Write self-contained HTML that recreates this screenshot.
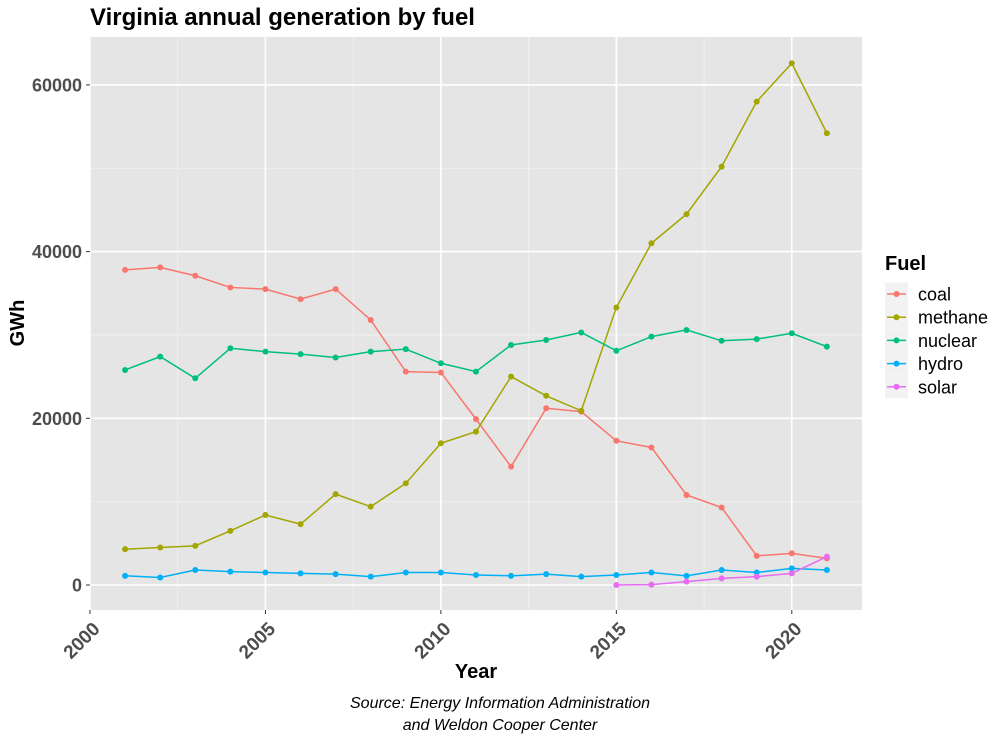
<!DOCTYPE html>
<html><head><style>
body{margin:0;background:#fff;}
svg text{font-family:"Liberation Sans",Arial,sans-serif;}
</style></head><body>
<svg id="s" width="1006" height="734" xmlns="http://www.w3.org/2000/svg">
<rect x="0" y="0" width="1006" height="734" fill="#fff"/>
<text x="90" y="25" font-size="24" font-weight="bold" fill="#000">Virginia annual generation by fuel</text>
<rect x="90" y="37" width="772" height="573" fill="#E5E5E5"/>
<g id="grid"></g>
<g id="data"></g>
<g id="axes"></g>
<text transform="translate(24,323) rotate(-90)" text-anchor="middle" font-size="20" font-weight="bold">GWh</text>
<text x="476" y="678" text-anchor="middle" font-size="20" font-weight="bold">Year</text>
<text x="500" y="708" text-anchor="middle" font-size="16" font-style="italic">Source: Energy Information Administration</text>
<text x="500" y="730" text-anchor="middle" font-size="16" font-style="italic">and Weldon Cooper Center</text>
<text x="885" y="270" font-size="20" font-weight="bold">Fuel</text>
<g id="leg"></g>
</svg>
<script>
const NS="http://www.w3.org/2000/svg";
function el(p,t,a,txt){const e=document.createElementNS(NS,t);for(const k in a)e.setAttribute(k,a[k]);if(txt!==undefined)e.textContent=txt;document.getElementById(p).appendChild(e);return e;}
const X=y=>90+(y-2000)*35.09, Y=v=>585-v*0.008335;
for(let v=10000;v<=60000;v+=20000)el("grid","line",{x1:90,x2:862,y1:Y(v),y2:Y(v),stroke:"#F2F2F2","stroke-width":0.8});
for(let y=2002.5;y<=2022;y+=5)el("grid","line",{x1:X(y),x2:X(y),y1:37,y2:610,stroke:"#F2F2F2","stroke-width":0.8});
for(let v=0;v<=60000;v+=20000){el("grid","line",{x1:90,x2:862,y1:Y(v),y2:Y(v),stroke:"#fff","stroke-width":1.6});
 el("axes","line",{x1:86,x2:90,y1:Y(v),y2:Y(v),stroke:"#333","stroke-width":1});
 el("axes","text",{x:82,y:Y(v)+6.5,"text-anchor":"end","font-size":18,"font-weight":"bold",fill:"#4D4D4D"},v);}
for(let y=2000;y<=2020;y+=5){el("grid","line",{x1:X(y),x2:X(y),y1:37,y2:610,stroke:"#fff","stroke-width":1.6});
 el("axes","line",{x1:X(y),x2:X(y),y1:610,y2:614,stroke:"#333","stroke-width":1});
 el("axes","text",{transform:`translate(${X(y)+11},${630}) rotate(-45)`,"text-anchor":"end","font-size":19,"font-weight":"bold",fill:"#4D4D4D"},y);}
const S=[
["coal","#F8766D",2001,[37800,38100,37100,35700,35500,34300,35500,31800,25600,25500,19900,14200,21200,20800,17300,16500,10800,9300,3500,3800,3200]],
["methane","#A3A500",2001,[4300,4500,4700,6500,8400,7300,10900,9400,12200,17000,18400,25000,22700,20900,33300,41000,44500,50200,58000,62600,54200]],
["nuclear","#00BF7D",2001,[25800,27400,24800,28400,28000,27700,27300,28000,28300,26600,25600,28800,29400,30300,28100,29800,30600,29300,29500,30200,28600]],
["hydro","#00B0F6",2001,[1100,900,1800,1600,1500,1400,1300,1000,1500,1500,1200,1100,1300,1000,1200,1500,1100,1800,1500,2000,1800]],
["solar","#E76BF3",2015,[0,50,400,800,1000,1400,3400]]];
S.forEach((s,i)=>{const pts=s[3].map((v,j)=>[X(s[2]+j),Y(v)]);
 el("data","polyline",{points:pts.map(p=>p.join(",")).join(" "),fill:"none",stroke:s[1],"stroke-width":1.5});
 pts.forEach(p=>el("data","circle",{cx:p[0],cy:p[1],r:3,fill:s[1]}));
 const ly=294+i*23.2;
 el("leg","rect",{x:885,y:ly-11.5,width:23,height:23,fill:"#F2F2F2"});
 el("leg","line",{x1:887,x2:906,y1:ly,y2:ly,stroke:s[1],"stroke-width":1.5});
 el("leg","circle",{cx:896.5,cy:ly,r:3,fill:s[1]});
 el("leg","text",{x:918,y:ly+6.5,"font-size":18},s[0]);});
</script>
</body></html>
